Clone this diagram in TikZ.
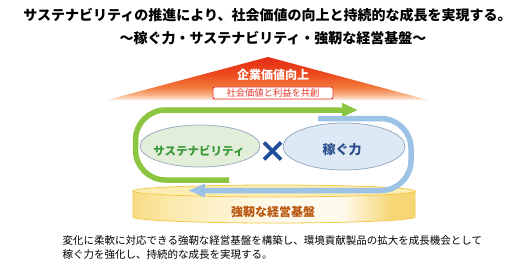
\documentclass[tikz,border=0pt]{standalone}
\usepackage{fontspec}
\setmainfont{Noto Sans CJK JP}
\usetikzlibrary{arrows.meta,shapes.geometric}
\definecolor{redd}{HTML}{E42C14}
\definecolor{redor}{HTML}{EC4B1F}
\definecolor{orng}{HTML}{F27A3A}
\definecolor{lightor}{HTML}{F8B48C}
\definecolor{peach}{HTML}{FFF1E8}
\definecolor{garrow}{HTML}{8CC540}
\definecolor{barrow}{HTML}{9CC2E5}
\definecolor{gfill}{HTML}{E3EEDA}
\definecolor{bfill}{HTML}{DDE9F5}
\definecolor{elborder}{HTML}{8EA5BE}
\definecolor{gtext}{HTML}{3B9A37}
\definecolor{btext}{HTML}{2B4E8C}
\definecolor{xcol}{HTML}{1F4D9C}
\definecolor{cylborder}{HTML}{F2C94A}
\definecolor{cyltop}{HTML}{FCEDB3}
\definecolor{cylL}{HTML}{F8DC84}
\definecolor{cylL2}{HTML}{FBEAAE}
\definecolor{cylM}{HTML}{FFFAEE}
\definecolor{cylR}{HTML}{F6D675}
\definecolor{cyltext}{HTML}{B9560F}
\definecolor{boxred}{HTML}{E8382D}
\pgfdeclareverticalshading{trishade}{100bp}{color(0bp)=(peach); color(25bp)=(peach); color(31bp)=(lightor); color(40bp)=(orng); color(55bp)=(redor); color(75bp)=(redd); color(100bp)=(redd)}
\pgfdeclarehorizontalshading{cylshade}{100bp}{color(0bp)=(cylL); color(25bp)=(cylL); color(32bp)=(cylL2); color(50bp)=(cylM); color(62bp)=(cylM); color(71bp)=(cylR); color(75bp)=(cylR); color(100bp)=(cylR)}
\begin{document}
\begin{tikzpicture}[x=1pt,y=-1pt,
  txt/.style={inner sep=0pt, anchor=center},
  titletxt/.style={txt, font=\fontsize{14}{16}\selectfont\bfseries},
  bodytxt/.style={inner sep=0pt, anchor=west, font=\fontsize{10.5}{12}\selectfont},
  bubble/.style={ellipse, draw=elborder, line width=0.7pt, inner sep=0pt},
  flow/.style={line width=5.5pt, rounded corners=30pt},
  xline/.style={draw=xcol, line width=3.6pt}]
\useasboundingbox[fill=white] (0,0) rectangle (518,268);

% titles
\node[titletxt] (t1) at (267.5,15) {サステナビリティの推進により、社会価値の向上と持続的な成長を実現する。};
\node[titletxt] (t2) at (273,38) {～稼ぐ力・サステナビリティ・強靭な経営基盤～};

% triangle
\path[shading=trishade] (107,100) -- (268,57) -- (428,100) -- cycle;
\node[txt, text=white, font=\fontsize{12}{14}\selectfont\bfseries] (val) at (273,75) {企業価値向上};
\node[draw=boxred, fill=white, line width=0.9pt, rounded corners=2pt, minimum width=120pt, minimum height=12pt, inner sep=0pt, text=boxred, font=\fontsize{9.3}{10}\selectfont] (share) at (273,93) {社会価値と利益を共創};

% cylinder
\path[shading=cylshade, draw=cylborder, line width=0.8pt] (133,191) -- (133,217) arc[start angle=180, end angle=0, x radius=141, y radius=6] -- (415,191) -- cycle;
\draw[draw=cylborder, fill=cyltop, line width=0.8pt] (274,191) ellipse [x radius=141, y radius=6];
\node[txt, text=cyltext, font=\fontsize{12}{14}\selectfont\bfseries] (base) at (273,212) {強靭な経営基盤};

% bubbles
\node[bubble, fill=gfill, minimum width=120pt, minimum height=42pt] (sus) at (200,146) {};
\node[txt, text=gtext, font=\fontsize{11.5}{13}\selectfont\bfseries] (sustxt) at (199,151) {サステナビリティ};
\node[bubble, fill=bfill, minimum width=122pt, minimum height=47pt] (earn) at (344,146.5) {};
\node[txt, text=btext, font=\fontsize{13}{15}\selectfont\bfseries] (earntxt) at (342,150) {稼ぐ力};

% cross
\coordinate (cross) at (272.5,151);
\draw[xline] ([shift={(-8.5,-8.5)}]cross) -- ([shift={(8.5,8.5)}]cross);
\draw[xline] ([shift={(-8.5,8.5)}]cross) -- ([shift={(8.5,-8.5)}]cross);

% flow arrows
\coordinate (gs) at (229,180);
\coordinate (gc1) at (135.5,180);
\coordinate (gc2) at (135.5,110);
\coordinate (ge) at (358,110);
\draw[flow, draw=garrow, -{Triangle[length=16pt,width=13pt]}] (gs) -- (gc1) -- (gc2) -- (ge);
\coordinate (bs) at (318,118.5);
\coordinate (bc1) at (411,118.5);
\coordinate (bc2) at (411,190.5);
\coordinate (be) at (188,190.5);
\draw[flow, draw=barrow, -{Triangle[length=17pt,width=12.5pt]}] (bs) -- (bc1) -- (bc2) -- (be);

% bottom text
\node[bodytxt] (d1) at (62.5,241) {変化に柔軟に対応できる強靭な経営基盤を構築し、環境貢献製品の拡大を成長機会として};
\node[bodytxt] (d2) at (62.5,255) {稼ぐ力を強化し、持続的な成長を実現する。};
\end{tikzpicture}
\end{document}
